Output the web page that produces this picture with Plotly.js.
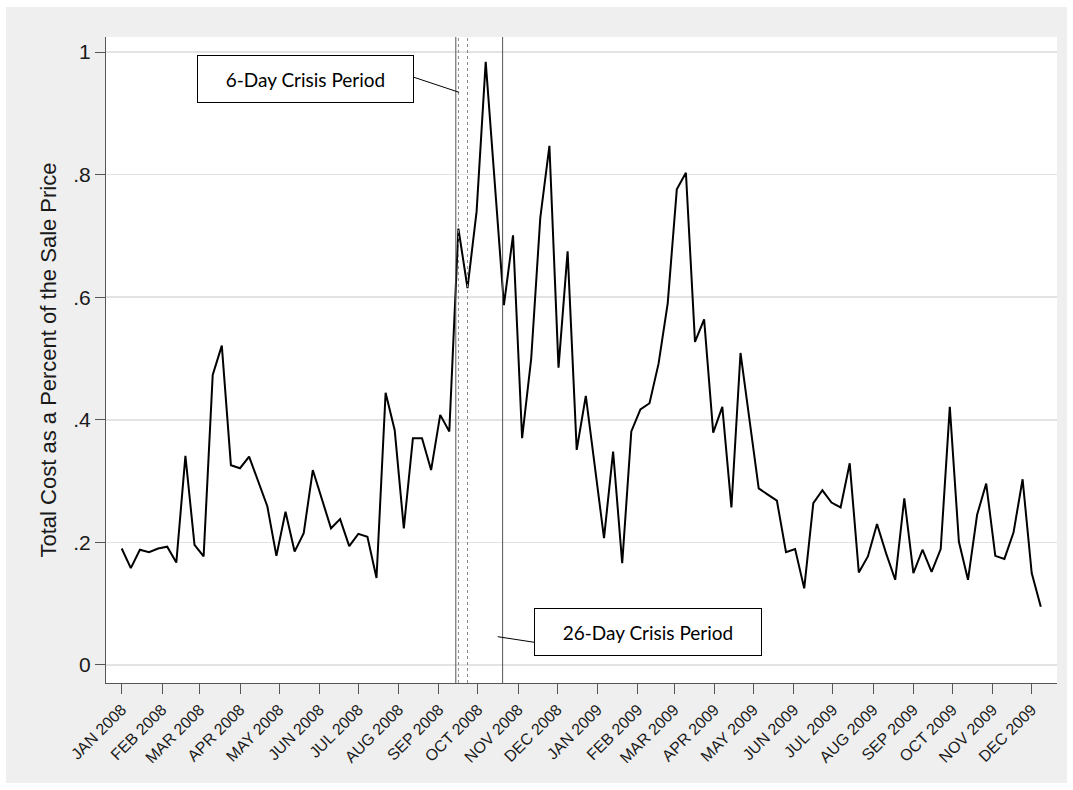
<!DOCTYPE html>
<html>
<head>
<meta charset="utf-8">
<script src="https://cdn.plot.ly/plotly-3.0.1.min.js"></script>
<style>
  html, body { margin: 0; padding: 0; background: #ffffff; }
  #chart { position: absolute; left: 6px; top: 7px; width: 1061px; height: 776px; }
</style>
</head>
<body>
<div id="chart"></div>
<script>
// ---- Data (weekly observations, Jan 2008 – Dec 2009) ----
const firstWeek = '2008-01-01';
const totalCost = [
  0.190, 0.158, 0.188, 0.184, 0.190, 0.193, 0.167, 0.341, 0.196, 0.177,
  0.473, 0.521, 0.326, 0.321, 0.340, 0.299, 0.259, 0.178, 0.250, 0.185,
  0.215, 0.318, 0.269, 0.223, 0.238, 0.194, 0.214, 0.209, 0.142, 0.444,
  0.383, 0.223, 0.370, 0.370, 0.318, 0.408, 0.381, 0.712, 0.615, 0.740,
  0.984, 0.778, 0.587, 0.701, 0.370, 0.500, 0.730, 0.847, 0.485, 0.675,
  0.351, 0.439, 0.325, 0.207, 0.348, 0.166, 0.381, 0.417, 0.427, 0.492,
  0.590, 0.776, 0.803, 0.527, 0.564, 0.379, 0.421, 0.257, 0.509, 0.400,
  0.288, 0.278, 0.268, 0.184, 0.189, 0.125, 0.264, 0.285, 0.265, 0.257,
  0.329, 0.151, 0.177, 0.230, 0.182, 0.139, 0.272, 0.150, 0.188, 0.152,
  0.189, 0.421, 0.201, 0.139, 0.245, 0.296, 0.178, 0.173, 0.216, 0.303,
  0.150, 0.095
];

const monthTickDates = [
  '2008-01-01','2008-02-01','2008-03-01','2008-04-01','2008-05-01','2008-06-01',
  '2008-07-01','2008-08-01','2008-09-01','2008-10-01','2008-11-01','2008-12-01',
  '2009-01-01','2009-02-01','2009-03-01','2009-04-01','2009-05-01','2009-06-01',
  '2009-07-01','2009-08-01','2009-09-01','2009-10-01','2009-11-01','2009-12-01'
];
const monthTickLabels = [
  'JAN 2008','FEB 2008','MAR 2008','APR 2008','MAY 2008','JUN 2008',
  'JUL 2008','AUG 2008','SEP 2008','OCT 2008','NOV 2008','DEC 2008',
  'JAN 2009','FEB 2009','MAR 2009','APR 2009','MAY 2009','JUN 2009',
  'JUL 2009','AUG 2009','SEP 2009','OCT 2009','NOV 2009','DEC 2009'
];
const yTickVals = [0, 0.2, 0.4, 0.6, 0.8, 1];
const yTickLabels = ['0', '.2', '.4', '.6', '.8', '1'];

// Crisis-period boundaries
const crisis26 = ['2008-09-14', '2008-10-20'];
const crisis6  = ['2008-09-16', '2008-09-23'];

// ---- Build weekly dates ----
function addDays(iso, d) {
  const t = new Date(iso + 'T00:00:00Z');
  t.setUTCDate(t.getUTCDate() + d);
  return t.toISOString().slice(0, 10);
}
const weekDates = totalCost.map((_, i) => addDays(firstWeek, 7 * i));

const trace = {
  x: weekDates,
  y: totalCost,
  type: 'scatter',
  mode: 'lines',
  line: { color: '#000000', width: 2 },
  hoverinfo: 'x+y'
};

const shapes = [];
crisis26.forEach(d => shapes.push({
  type: 'line', xref: 'x', yref: 'paper', x0: d, x1: d, y0: 0, y1: 1,
  line: { color: '#555555', width: 1 }
}));
crisis6.forEach(d => shapes.push({
  type: 'line', xref: 'x', yref: 'paper', x0: d, x1: d, y0: 0, y1: 1,
  line: { color: '#888888', width: 1, dash: 'dot' }
}));
// pointer lines from the label boxes to the period lines
shapes.push({ type: 'line', xref: 'paper', yref: 'paper',
  x0: 0.3239, y0: 0.9376, x1: 0.3713, y1: 0.9144,
  line: { color: '#000000', width: 1 } });
shapes.push({ type: 'line', xref: 'paper', yref: 'paper',
  x0: 0.4504, y0: 0.0630, x1: 0.4119, y1: 0.0717,
  line: { color: '#000000', width: 1 } });

const annotations = [
  { xref: 'paper', yref: 'paper', x: 0.2100, y: 0.9347,
    xanchor: 'center', yanchor: 'middle',
    text: '6-Day Crisis Period', showarrow: false,
    width: 215, height: 46, bgcolor: '#ffffff',
    bordercolor: '#000000', borderwidth: 1, borderpad: 0,
    font: { family: 'Lato, sans-serif', size: 19, color: '#000000' } },
  { xref: 'paper', yref: 'paper', x: 0.5703, y: 0.0797,
    xanchor: 'center', yanchor: 'middle',
    text: '26-Day Crisis Period', showarrow: false,
    width: 226, height: 46, bgcolor: '#ffffff',
    bordercolor: '#000000', borderwidth: 1, borderpad: 0,
    font: { family: 'Lato, sans-serif', size: 19, color: '#000000' } }
];

const layout = {
  width: 1061, height: 776,
  margin: { l: 100, r: 10, t: 30, b: 100 },
  paper_bgcolor: '#efefef',
  plot_bgcolor: '#ffffff',
  showlegend: false,
  font: { family: 'Arial, "Liberation Sans", sans-serif', color: '#1a1a1a' },
  xaxis: {
    type: 'date',
    range: ['2007-12-19 22:00', '2009-12-20 11:00'],
    tickmode: 'array',
    tickvals: monthTickDates,
    ticktext: monthTickLabels,
    tickangle: -45,
    tickfont: { family: 'Arial, "Liberation Sans", sans-serif', size: 16, color: '#1a1a1a' },
    ticks: 'outside', ticklen: 10, tickcolor: '#555555', tickwidth: 1,
    showgrid: false, zeroline: false,
    showline: true, linecolor: '#555555', linewidth: 1
  },
  yaxis: {
    range: [-0.0294, 1.0245],
    tickmode: 'array',
    tickvals: yTickVals,
    ticktext: yTickLabels,
    tickfont: { family: 'Arial, "Liberation Sans", sans-serif', size: 21, color: '#1a1a1a' },
    ticks: 'outside', ticklen: 10, tickcolor: '#555555', tickwidth: 1,
    showgrid: true, gridcolor: '#e3e3e3', gridwidth: 1.5,
    zeroline: false,
    showline: true, linecolor: '#555555', linewidth: 1,
    title: { text: 'Total Cost as a Percent of the Sale Price',
             font: { family: 'Arial, "Liberation Sans", sans-serif', size: 22, color: '#1a1a1a' }, standoff: 10 }
  },
  shapes: shapes,
  annotations: annotations
};

Plotly.newPlot('chart', [trace], layout, { displayModeBar: false, staticPlot: true });
</script>
</body>
</html>
